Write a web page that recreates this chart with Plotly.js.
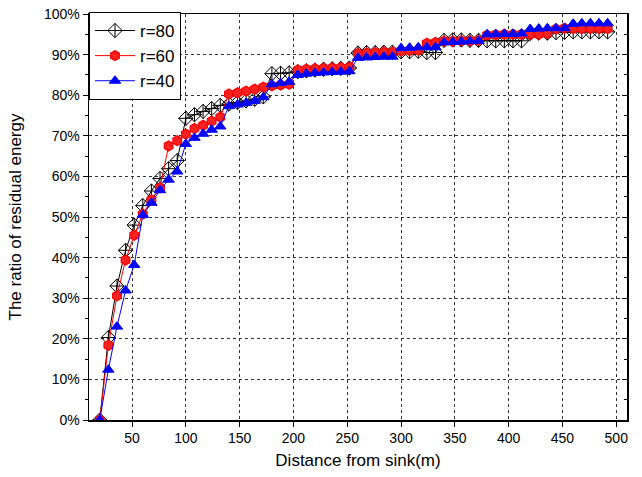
<!DOCTYPE html>
<html>
<head>
<meta charset="utf-8">
<script src="https://cdn.plot.ly/plotly-3.0.1.min.js"></script>
<style>html,body{margin:0;padding:0;background:#fff;}#chart{width:642px;height:477px;}</style>
</head>
<body>
<div id="chart"></div>
<script>
// Distance from sink (m)
const distance = [20,28,36,44,52,60,68,76,84,92,100,108,116,124,132,140,148,156,164,172,180,188,196,204,212,220,228,236,244,252,260,268,276,284,292,300,308,316,324,332,340,348,356,364,372,380,388,396,404,412,420,428,436,444,452,460,468,476,484,492];
// Ratio of residual energy (%)
const r80 = [0,20.3,33.0,41.8,48.0,52.8,56.4,59.5,61.9,63.9,74.3,75.2,76.0,76.7,77.5,77.8,78.2,78.6,79.0,79.6,85.3,85.4,85.5,85.8,86.0,86.2,86.4,86.5,86.6,86.7,90.4,90.5,90.5,90.6,90.6,90.7,90.7,90.8,90.5,90.5,93.5,93.6,93.6,93.5,93.5,93.4,93.4,93.4,93.4,93.4,95.2,95.3,95.3,95.4,95.5,95.6,95.6,95.6,95.6,95.6];
const r60 = [0,18.4,30.6,39.4,45.5,50.7,54.2,57.2,67.5,68.8,70.4,71.8,72.6,73.6,74.6,80.3,80.6,81.0,81.5,82.0,82.3,82.5,82.7,86.2,86.4,86.5,86.6,86.7,86.8,86.9,90.3,90.4,90.5,90.6,90.6,90.9,91.0,91.1,92.8,93.0,93.3,93.3,93.4,93.4,93.5,94.8,94.9,95.0,95.0,95.0,95.0,95.0,95.2,96.3,96.5,96.4,96.4,96.4,96.4,96.4];
const r40 = [0,12.4,23.0,31.9,38.2,50.5,53.5,56.6,59.2,61.2,68.0,69.5,70.5,71.5,72.3,77.3,77.7,78.1,78.6,79.5,82.7,83.0,83.3,85.0,85.3,85.5,85.6,85.7,85.8,85.9,89.2,89.3,89.4,89.5,89.5,91.6,91.7,91.8,91.8,91.8,93.0,93.1,93.2,93.3,93.4,95.0,95.0,95.1,95.1,95.2,96.3,96.4,96.5,96.5,96.5,97.6,97.7,97.7,97.7,97.7];
const seriesNames = ['r=80','r=60','r=40'];
const yTickVals = [0,10,20,30,40,50,60,70,80,90,100];
const yTickText = ['0%','10%','20%','30%','40%','50%','60%','70%','80%','90%','100%'];
const xTickVals = [50,100,150,200,250,300,350,400,450,500];

const traces = [
  {x: distance, y: r80, name: seriesNames[0], mode: 'lines+markers', type: 'scatter',
   line: {color: '#000000', width: 1},
   marker: {symbol: 'diamond-cross-open', size: 11, color: '#000000', line: {width: 1, color: '#000000'}}},
  {x: distance, y: r60, name: seriesNames[1], mode: 'lines+markers', type: 'scatter',
   line: {color: '#ff0000', width: 1},
   marker: {symbol: 'hexagon', size: 10, color: '#ff2020', line: {width: 1.2, color: '#ff0000'}}},
  {x: distance, y: r40, name: seriesNames[2], mode: 'lines+markers', type: 'scatter',
   line: {color: '#0000ff', width: 1},
   marker: {symbol: 'triangle-up', size: 10, color: '#0000ff', line: {width: 1, color: '#0000ff'}}},
  {x: distance, y: r40, xaxis: 'x', yaxis: 'y2', showlegend: false, hoverinfo: 'skip', mode: 'none', type: 'scatter'}
];

const fontFam = 'Liberation Sans, Arial, sans-serif';
const layout = {
  width: 642, height: 477,
  margin: {l: 89, r: 15, t: 12, b: 57, pad: 0},
  paper_bgcolor: '#ffffff', plot_bgcolor: '#ffffff',
  font: {family: fontFam, size: 14, color: '#000'},
  showlegend: true,
  legend: {x: 0, y: 1.005, xanchor: 'left', yanchor: 'top', bordercolor: '#000', borderwidth: 1,
           bgcolor: '#ffffff', font: {family: fontFam, size: 17, color: '#000'}, tracegroupgap: 0, itemwidth: 40},
  xaxis: {range: [10, 510], tickvals: xTickVals, ticks: 'outside', ticklen: 5, tickwidth: 1, tickcolor: '#000',
          showline: true, linecolor: '#000', linewidth: 1.5, mirror: true,
          showgrid: true, gridcolor: '#333', griddash: 'dot', gridwidth: 1, zeroline: false,
          tickfont: {family: fontFam, size: 14, color: '#000'},
          title: {text: 'Distance from sink(m)', font: {family: fontFam, size: 17, color: '#000'}, standoff: 9}},
  yaxis: {range: [0, 100], tickvals: yTickVals, ticktext: yTickText, ticks: 'outside', ticklen: 5, tickwidth: 1, tickcolor: '#000',
          minor: {dtick: 5, tick0: 0, ticks: 'outside', ticklen: 3, tickcolor: '#000', showgrid: false},
          showline: true, linecolor: '#000', linewidth: 1.5, mirror: true,
          showgrid: true, gridcolor: '#333', griddash: 'dot', gridwidth: 1, zeroline: false,
          tickfont: {family: fontFam, size: 14, color: '#000'},
          title: {text: 'The ratio of residual energy', font: {family: fontFam, size: 17, color: '#000'}, standoff: 18}},
  yaxis2: {range: [0, 100], overlaying: 'y', side: 'right', tickvals: yTickVals, ticks: 'inside', ticklen: 5, tickcolor: '#000',
           minor: {dtick: 5, tick0: 0, ticks: 'inside', ticklen: 3, tickcolor: '#000', showgrid: false},
           showticklabels: false, showgrid: false, zeroline: false, showline: false}
};

Plotly.newPlot('chart', traces, layout, {displayModeBar: false, staticPlot: true});
</script>
</body>
</html>
